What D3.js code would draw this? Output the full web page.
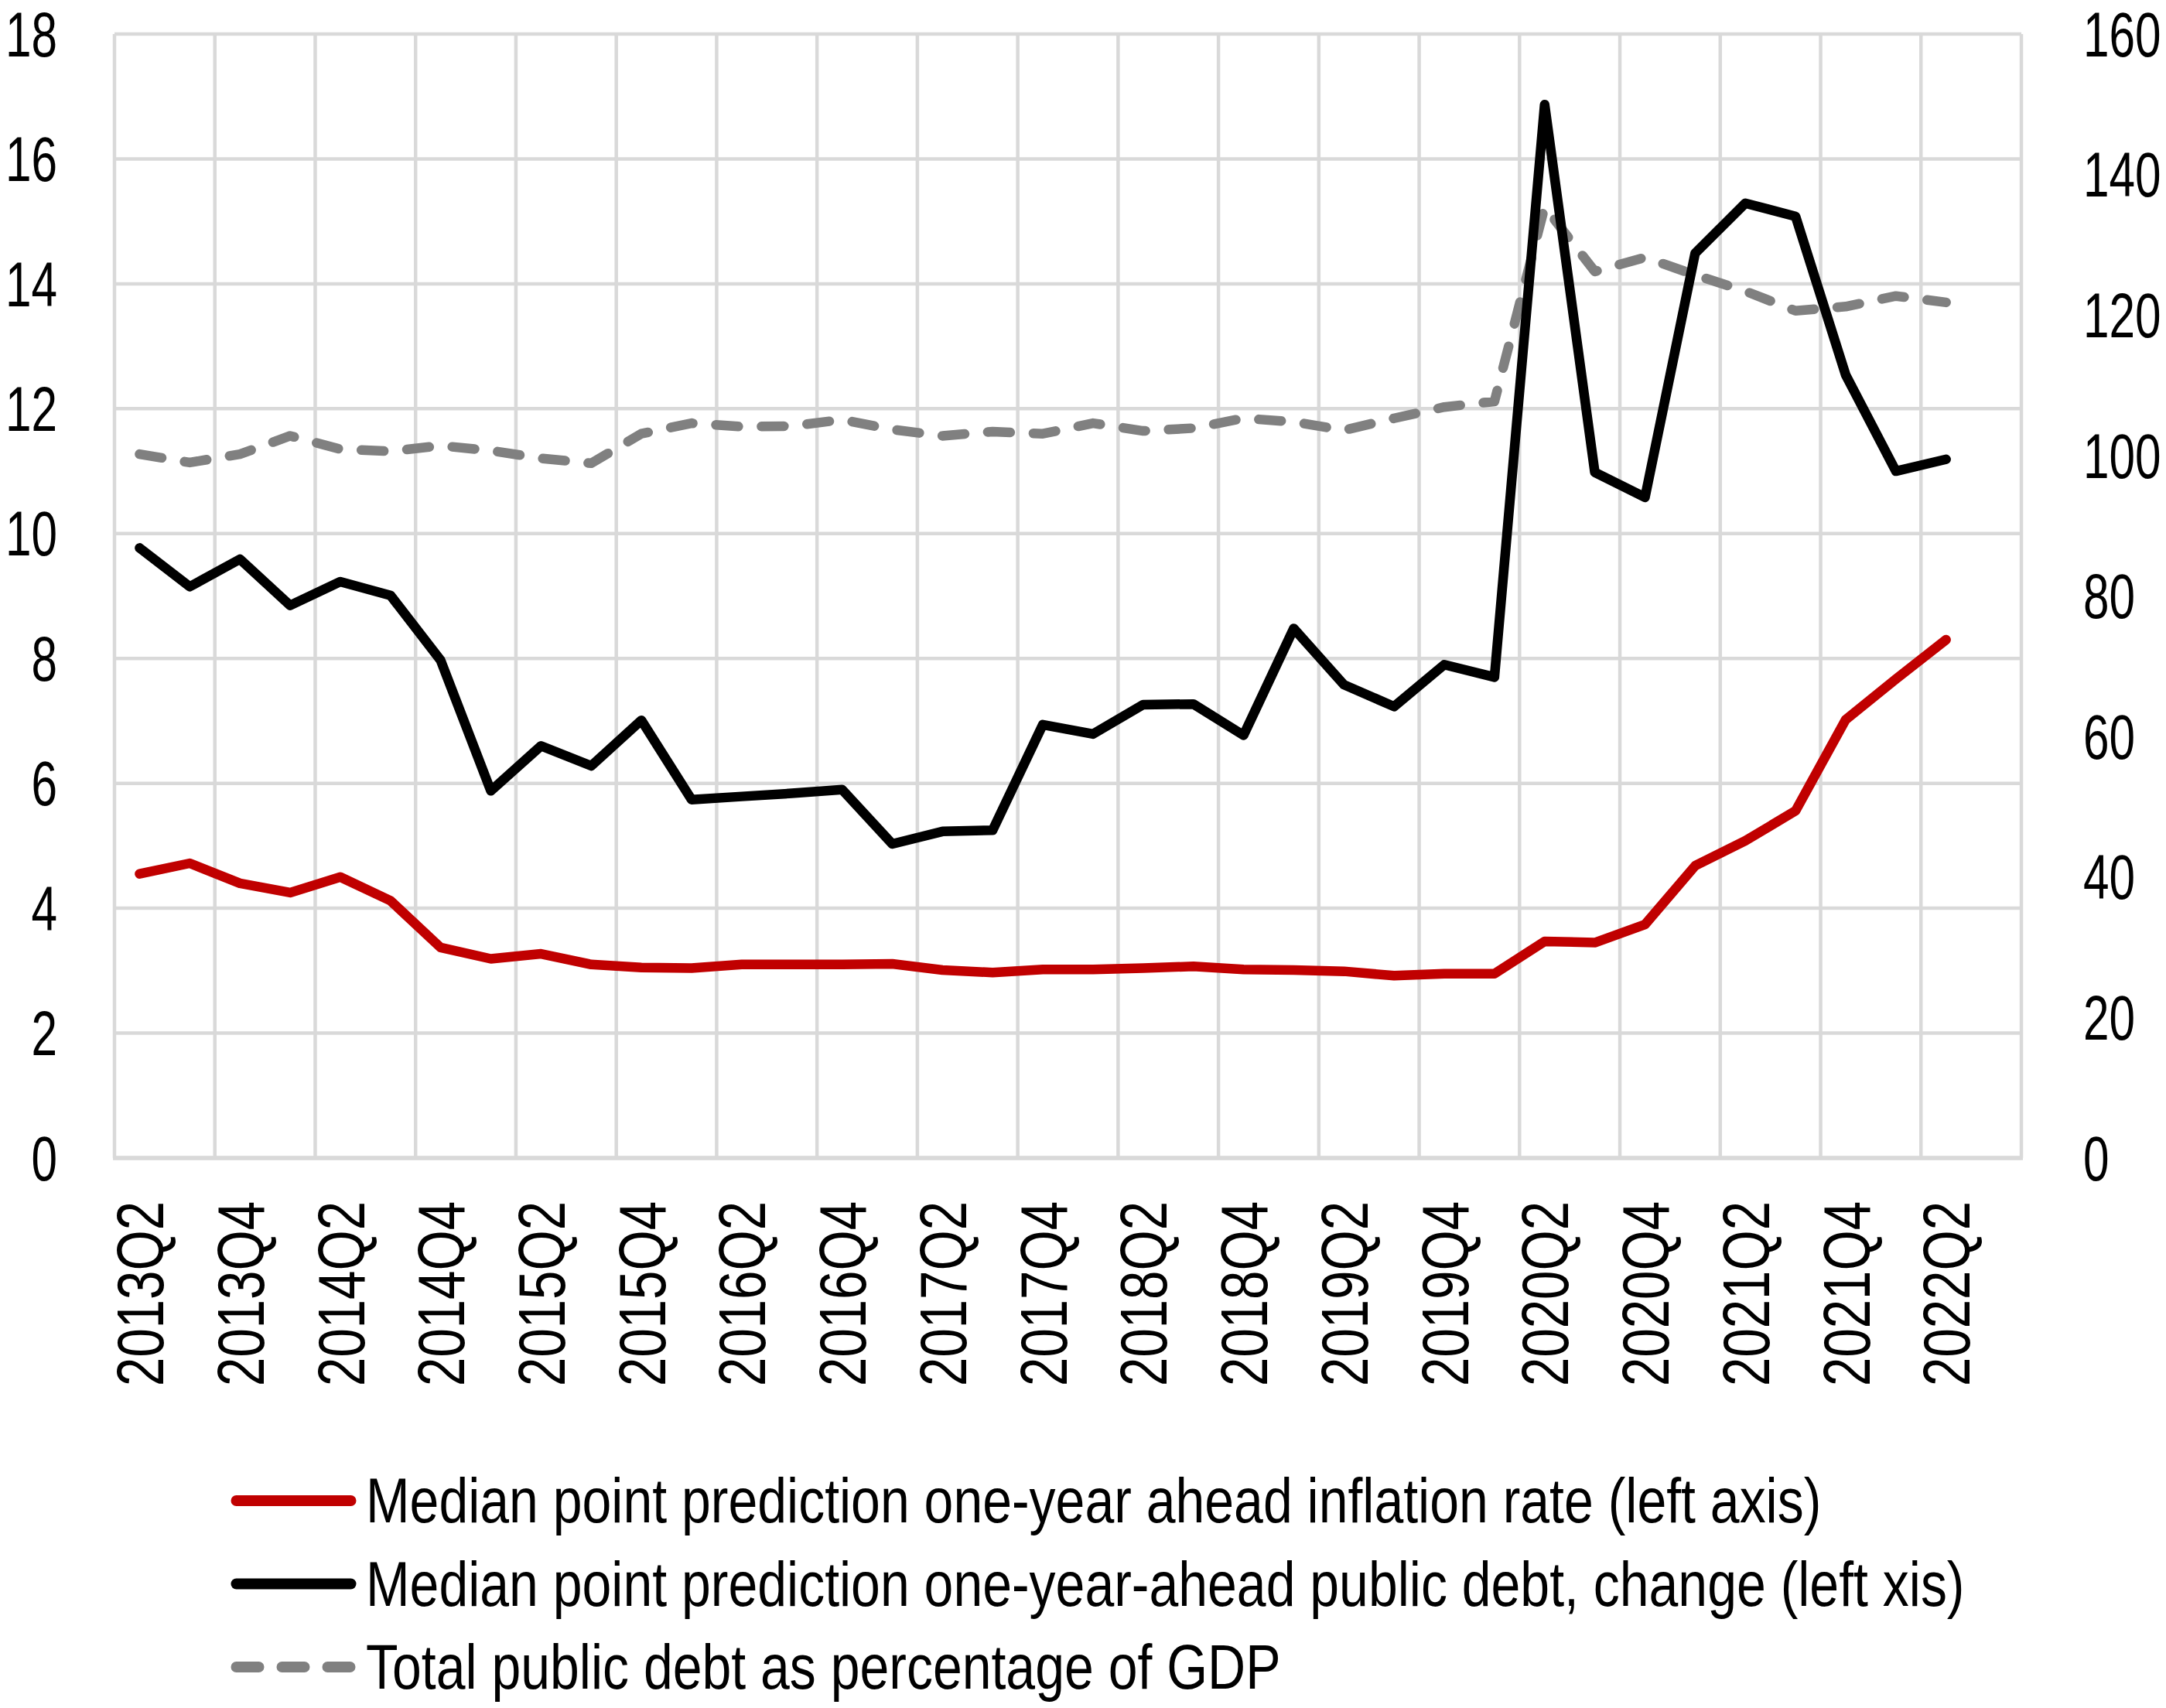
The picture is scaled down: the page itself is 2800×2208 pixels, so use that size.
<!DOCTYPE html>
<html>
<head>
<meta charset="utf-8">
<script src="https://cdn.jsdelivr.net/npm/d3@7"></script>
<style>
  html, body { margin: 0; padding: 0; background: #ffffff; }
  svg { display: block; }
  text { font-family: "Liberation Sans", Arial, sans-serif; fill: #000; }
</style>
</head>
<body>
<svg id="chart" width="2800" height="2208"></svg>
<script>
// ---------------- data ----------------
const quarters = [
  "2013Q2","2013Q3","2013Q4","2014Q1","2014Q2","2014Q3","2014Q4","2015Q1","2015Q2","2015Q3",
  "2015Q4","2016Q1","2016Q2","2016Q3","2016Q4","2017Q1","2017Q2","2017Q3","2017Q4","2018Q1",
  "2018Q2","2018Q3","2018Q4","2019Q1","2019Q2","2019Q3","2019Q4","2020Q1","2020Q2","2020Q3",
  "2020Q4","2021Q1","2021Q2","2021Q3","2021Q4","2022Q1","2022Q2","2022Q3"
];
const tickLabels = [
  "2013Q2","2013Q4","2014Q2","2014Q4","2015Q2","2015Q4","2016Q2","2016Q4","2017Q2","2017Q4",
  "2018Q2","2018Q4","2019Q2","2019Q4","2020Q2","2020Q4","2021Q2","2021Q4","2022Q2"
];
// Median point prediction one-year ahead inflation rate (left axis)
const inflation = [
  4.55, 4.72, 4.40, 4.25, 4.50, 4.12, 3.37, 3.19, 3.27, 3.10,
  3.05, 3.04, 3.10, 3.10, 3.10, 3.11, 3.01, 2.97, 3.02, 3.02,
  3.04, 3.07, 3.02, 3.01, 2.99, 2.92, 2.95, 2.95, 3.47, 3.45,
  3.74, 4.68, 5.08, 5.56, 7.02, 7.67, 8.30
];
// Median point prediction one-year-ahead public debt, change (left axis)
const debtChange = [
  9.77, 9.15, 9.59, 8.85, 9.23, 9.01, 7.97, 5.88, 6.60, 6.28,
  7.01, 5.74, 5.79, 5.84, 5.90, 5.03, 5.23, 5.25, 6.94, 6.79,
  7.26, 7.27, 6.77, 8.48, 7.58, 7.23, 7.90, 7.70, 16.87, 10.98,
  10.58, 14.49, 15.29, 15.08, 12.54, 11.00, 11.19
];
// Total public debt as percentage of GDP (right axis)
const debtGDP = [
  100.2, 99.0, 100.2, 102.8, 100.9, 100.6, 101.4, 100.7, 99.6, 98.9,
  103.1, 104.6, 104.1, 104.2, 105.1, 103.7, 102.8, 103.4, 103.1, 104.6,
  103.5, 103.9, 105.3, 104.8, 103.6, 105.3, 106.9, 107.7, 135.4, 126.2,
  128.2, 125.7, 123.4, 120.6, 121.2, 122.7, 121.8
];
const leftTicks = [0, 2, 4, 6, 8, 10, 12, 14, 16, 18];
const rightTicks = [0, 20, 40, 60, 80, 100, 120, 140, 160];
const seriesNames = [
  "Median point prediction one-year ahead inflation rate (left axis)",
  "Median point prediction one-year-ahead public debt, change (left xis)",
  "Total public debt as percentage of GDP"
];

// ---------------- layout ----------------
const svg = d3.select("#chart");
const L = 148, R = 2613, T = 44, B = 1497;
const FS = 82;          // font size
const SX = 0.735;       // horizontal condensation of axis labels
const SXL = 0.829;      // horizontal condensation of legend text
const gridColor = "#d9d9d9";
const colors = { red: "#c00000", black: "#000000", gray: "#808080" };
const LW = 12.5;

const x = d3.scaleBand().domain(quarters).range([L, R]).paddingInner(0).paddingOuter(0);
const yL = d3.scaleLinear().domain([0, 18]).range([B, T]);
const yR = d3.scaleLinear().domain([0, 160]).range([B, T]);
const cx = q => x(q) + x.bandwidth() / 2;

// gridlines
const g = svg.append("g");
g.selectAll("line.h").data(leftTicks).join("line")
  .attr("x1", L).attr("x2", R)
  .attr("y1", d => yL(d)).attr("y2", d => yL(d))
  .attr("stroke", gridColor).attr("stroke-width", 4.5);
const vIdx = d3.range(0, quarters.length + 1, 2);
g.selectAll("line.v").data(vIdx).join("line")
  .attr("x1", i => i < quarters.length ? x(quarters[i]) : R)
  .attr("x2", i => i < quarters.length ? x(quarters[i]) : R)
  .attr("y1", T).attr("y2", B)
  .attr("stroke", gridColor).attr("stroke-width", 4.5);
// bottom axis line
g.append("line").attr("x1", L - 2).attr("x2", R + 2).attr("y1", B).attr("y2", B)
  .attr("stroke", gridColor).attr("stroke-width", 5.5);

// left axis labels
svg.append("g").selectAll("text").data(leftTicks).join("text")
  .attr("transform", d => `translate(74,${yL(d)}) scale(${SX},1)`)
  .attr("text-anchor", "end").attr("dy", "0.35em")
  .attr("font-size", FS).text(d => d);
// right axis labels
svg.append("g").selectAll("text").data(rightTicks).join("text")
  .attr("transform", d => `translate(2693,${yR(d)}) scale(${SX},1)`)
  .attr("text-anchor", "start").attr("dy", "0.35em")
  .attr("font-size", FS).text(d => d);
// x labels
svg.append("g").selectAll("text").data(tickLabels).join("text")
  .attr("transform", d => `translate(${cx(d)},1553) rotate(-90) scale(0.79,1)`)
  .attr("text-anchor", "end").attr("dy", "0.36em")
  .attr("font-size", 85).text(d => d);

// lines
const mk = (scale) => d3.line().x((d, i) => cx(quarters[i])).y(d => scale(d));
svg.append("path").datum(debtGDP)
  .attr("d", mk(yR)).attr("fill", "none")
  .attr("stroke", colors.gray).attr("stroke-width", LW)
  .attr("stroke-dasharray", "29,30").attr("stroke-linecap", "round").attr("stroke-linejoin", "round");
svg.append("path").datum(debtChange)
  .attr("d", mk(yL)).attr("fill", "none")
  .attr("stroke", colors.black).attr("stroke-width", LW)
  .attr("stroke-linecap", "round").attr("stroke-linejoin", "round");
svg.append("path").datum(inflation)
  .attr("d", mk(yL)).attr("fill", "none")
  .attr("stroke", colors.red).attr("stroke-width", LW)
  .attr("stroke-linecap", "round").attr("stroke-linejoin", "round");

// legend
const legendItems = [
  { name: seriesNames[0], color: colors.red, dash: null },
  { name: seriesNames[1], color: colors.black, dash: null },
  { name: seriesNames[2], color: colors.gray, dash: "29,30" }
];
const lg = svg.append("g");
legendItems.forEach((it, i) => {
  const ly = 1940 + i * 107.5;
  const ln = lg.append("line")
    .attr("x1", 305.5).attr("x2", 453.5).attr("y1", ly).attr("y2", ly)
    .attr("stroke", it.color).attr("stroke-width", 14).attr("stroke-linecap", "round");
  if (it.dash) ln.attr("stroke-dasharray", it.dash);
  lg.append("text")
    .attr("transform", `translate(473,${ly + 28}) scale(${SXL},1)`)
    .attr("font-size", FS).text(it.name);
});
</script>
</body>
</html>
